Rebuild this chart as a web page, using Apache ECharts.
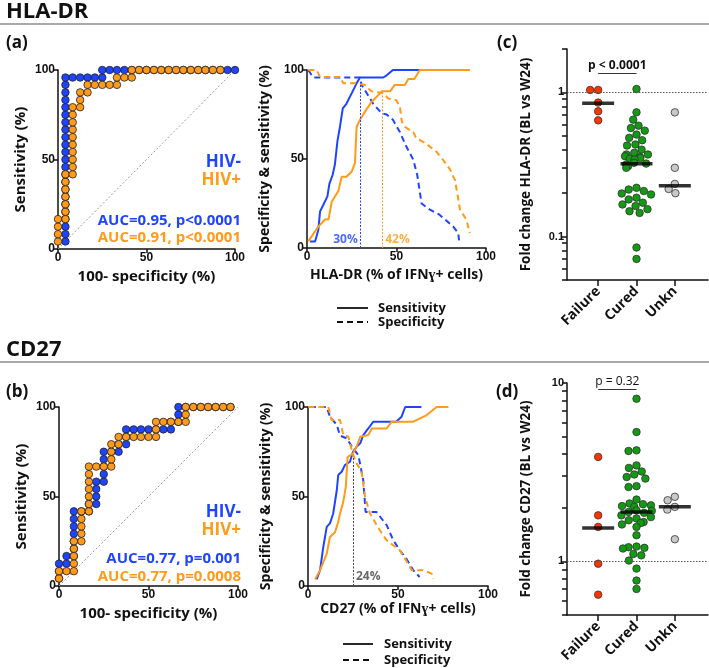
<!DOCTYPE html>
<html>
<head>
<meta charset="utf-8">
<script src="https://cdn.jsdelivr.net/npm/echarts@6/dist/echarts.min.js"></script>
<style>
  html, body { margin: 0; padding: 0; background: #fff; }
  #chart { width: 709px; height: 668px; }
</style>
</head>
<body>
<div id="chart"></div>
<script>
// ---- ROC curves, points are [100-specificity, sensitivity] ----
const rocHlaNeg = [[4.2,4.2],[4.2,8.3],[4.2,12.5],[4.2,16.7],[4.2,20.8],[4.2,25],[4.2,29.2],[4.2,33.3],[4.2,37.5],[4.2,41.7],[4.2,45.8],[4.2,50],[4.2,54.2],[4.2,58.3],[4.2,62.5],[4.2,66.7],[4.2,70.8],[4.2,75],[4.2,79.2],[4.2,83.3],[4.2,87.5],[4.2,91.7],[4.2,95.8],[8.3,95.8],[12.5,95.8],[16.7,95.8],[20.8,95.8],[25,95.8],[25,100],[29.2,100],[33.3,100],[37.5,100],[41.7,100],[45.8,100],[50,100],[54.2,100],[58.3,100],[62.5,100],[66.7,100],[70.8,100],[75,100],[79.2,100],[83.3,100],[87.5,100],[91.7,100],[95.8,100],[100,100]];
const rocHlaPos = [[0,4.2],[0,8.3],[0,12.5],[0,16.7],[4.2,16.7],[4.2,20.8],[4.2,25],[4.2,29.2],[4.2,33.3],[4.2,37.5],[4.2,41.7],[8.3,41.7],[8.3,45.8],[8.3,50],[8.3,54.2],[8.3,58.3],[8.3,62.5],[8.3,66.7],[8.3,70.8],[8.3,75],[8.3,79.2],[12.5,79.2],[12.5,83.3],[12.5,87.5],[16.7,87.5],[16.7,91.7],[20.8,91.7],[25,91.7],[29.2,91.7],[33.3,91.7],[33.3,95.8],[37.5,95.8],[41.7,95.8],[41.7,100],[45.8,100],[50,100],[54.2,100],[58.3,100],[62.5,100],[66.7,100],[70.8,100],[75,100],[79.2,100],[83.3,100],[87.5,100],[91.7,100]];
const rocCdNeg = [[0,4.2],[0,8.3],[0,12.5],[4.2,12.5],[4.2,16.7],[8.3,16.7],[8.3,20.8],[8.3,25],[8.3,29.2],[8.3,33.3],[8.3,37.5],[8.3,41.7],[12.5,41.7],[16.7,41.7],[16.7,45.8],[20.8,45.8],[20.8,50],[20.8,54.2],[20.8,58.3],[25,58.3],[25,62.5],[25,66.7],[25,70.8],[25,75],[29.2,75],[33.3,75],[33.3,79.2],[37.5,79.2],[37.5,83.3],[37.5,87.5],[41.7,87.5],[45.8,87.5],[50,87.5],[54.2,87.5],[58.3,87.5],[62.5,87.5],[62.5,91.7],[66.7,91.7],[66.7,95.8],[66.7,100],[70.8,100],[75,100],[79.2,100],[83.3,100],[87.5,100],[91.7,100],[95.8,100]];
const rocCdPos = [[0,4.2],[0,8.3],[4.2,8.3],[8.3,8.3],[8.3,12.5],[8.3,16.7],[8.3,20.8],[8.3,25],[12.5,25],[12.5,29.2],[12.5,33.3],[12.5,37.5],[12.5,41.7],[16.7,41.7],[16.7,45.8],[16.7,50],[16.7,54.2],[16.7,58.3],[16.7,62.5],[16.7,66.7],[20.8,66.7],[25,66.7],[29.2,66.7],[29.2,70.8],[29.2,75],[29.2,79.2],[33.3,79.2],[33.3,83.3],[37.5,83.3],[41.7,83.3],[45.8,83.3],[50,83.3],[54.2,83.3],[54.2,87.5],[54.2,91.7],[58.3,91.7],[62.5,91.7],[66.7,91.7],[70.8,91.7],[70.8,95.8],[70.8,100],[75,100],[79.2,100],[83.3,100],[87.5,100],[91.7,100],[95.8,100]];
const chanceLine = [[0,0],[100,100]];

// ---- sensitivity / specificity vs marker level, points are [% of IFNg+ cells, %] ----
const hlaSensNeg = [[1.7,3.7],[4.5,3.7],[6.3,10],[7.3,20.6],[9,24],[11.4,29],[12.5,36],[14.3,41],[15.6,47],[17,60],[18.4,68],[20,78.5],[22,81],[25,87],[27.7,92.5],[29.6,95.8],[42.6,95.8],[44.5,97],[48,100],[64,100]];
const hlaSpecNeg = [[0.7,100],[3.5,95.8],[29.6,95.8],[30.5,91.6],[34,86],[37,81],[41.7,75.7],[44.5,75],[48,72],[52,65],[55,58],[59.4,49.5],[61.6,41],[64,25],[68.7,21.5],[74,18.7],[81.7,12],[84.5,8.4],[85,3.7]];
const hlaSensPos = [[0.7,3.7],[2.6,6.5],[6.3,12],[10,16],[12,16],[13.8,26],[17.5,32],[19.4,40],[22,40],[25,43],[26.8,47.7],[27.7,68],[29.6,72],[33,77.6],[34.3,79.4],[36,82],[39,85],[41.7,88],[46.4,88],[49,91.6],[54.7,91.6],[56.6,95],[60,95],[63,100],[91,100]];
const hlaSpecPos = [[0.7,100],[5.4,100],[7.3,96],[18.4,96],[20.3,92.5],[27.7,92.5],[32.4,91.6],[36,88],[42.6,87],[45.4,84],[50,83],[52,78.5],[53,71],[54.7,68],[59.4,65],[61,61.7],[66,59],[72.4,54],[76,49.5],[80,44],[82.7,38],[85.5,21.5],[89,16],[91,8.4]];
const cdSensNeg = [[4.8,3.7],[6.7,8.8],[8.5,21.8],[10.4,33],[12.2,35],[14,40.5],[16,53.5],[16.8,62],[18.7,63.8],[20.5,67.5],[23.3,69.4],[25,75],[27,77.8],[29,79.7],[30.7,84.3],[33.5,88],[36.3,91.8],[49,91.8],[52,94.6],[54,100],[63,100]];
const cdSpecNeg = [[1,100],[10.4,100],[12.2,94.6],[16,90],[17.8,84],[21.5,82.5],[24.3,78],[28,73],[30.7,59],[32,41.4],[38,41.4],[43.7,34],[47.4,25.5],[51,20],[54.8,15],[58.5,8.8],[62,5]];
const cdSensPos = [[3.9,3.7],[6.7,8.8],[10.4,18],[12.2,27.4],[15,30],[16.8,35.8],[17.8,40.5],[19.6,47],[21,55.4],[22,72],[25,74],[27,77.8],[29,83.4],[33.5,84.3],[35.4,88],[43.7,88],[46.5,91.8],[58.5,91.8],[66,95.5],[71.5,100],[78,100]];
const cdSpecPos = [[0.2,100],[11.3,100],[13.1,92.7],[17.8,92.7],[19.6,84.3],[22.4,83.4],[24.8,74],[27,68.5],[29.8,63.8],[31.7,49.8],[34.4,40.5],[40,31],[43.7,25.5],[51,20],[56.7,10.6],[57.6,8.8],[64,8.8],[68.7,6.9],[69.6,4]];
// cut-offs: [x, height of the dotted line]
const hlaCutNeg = [30, 93];
const hlaCutPos = [42, 88];
const cdCut = [25, 72];

// ---- fold change BL vs W24 ----
const groups = ['Failure', 'Cured', 'Unkn'];
const hlaFailure = [1.04, 1.04, 0.85, 0.74, 0.64];
const hlaCured = [1.055, 0.727, 0.647, 0.588, 0.566, 0.543, 0.51, 0.484, 0.466, 0.435, 0.428, 0.401, 0.381, 0.371, 0.371, 0.361, 0.357, 0.351, 0.346, 0.342, 0.325, 0.321, 0.316, 0.308, 0.3, 0.218, 0.212, 0.207, 0.199, 0.196, 0.186, 0.181, 0.172, 0.167, 0.163, 0.155, 0.15, 0.146, 0.084, 0.07];
const hlaUnkn = [0.727, 0.3, 0.232, 0.214, 0.2];
const hlaMedians = [0.84, 0.32, 0.225];
const cdFailure = [3.85, 1.81, 1.56, 0.97, 0.65];
const cdCured = [8.16, 5.31, 4.19, 4.16, 3.45, 3.34, 3.19, 3.07, 2.97, 2.91, 2.64, 2.61, 2.22, 2.11, 2.09, 2.06, 2.04, 2.02, 1.93, 1.92, 1.89, 1.87, 1.81, 1.77, 1.74, 1.7, 1.66, 1.64, 1.61, 1.56, 1.4, 1.21, 1.2, 1.19, 1.18, 1.1, 1.08, 1.01, 0.91, 0.78, 0.7];
const cdUnkn = [2.3, 2.2, 2.02, 1.95, 1.33];
const cdMedians = [1.54, 1.89, 2.02];
const hlaTicks = [0.05, 0.06, 0.07, 0.08, 0.09, 0.1, 0.2, 0.3, 0.4, 0.5, 0.6, 0.7, 0.8, 0.9, 1, 2];
const cdTicks = [0.5, 0.6, 0.7, 0.8, 0.9, 1, 2, 3, 4, 5, 6, 7, 8, 9, 10];

const BLUE = '#1f44ff', ORANGE = '#ff9a1a', RED = '#ff3300', GREEN = '#139a13', GREY = '#c8c8c8';
const INK = '#111';
const SANS = 'Open Sans';
const NUM = 'Liberation Sans';

const chart = echarts.init(document.getElementById('chart'));

function grid(left, top, width, height) {
  return { left: left, top: top, width: width, height: height, outerBoundsMode: 'none', containLabel: false };
}
function titleStyle(size) {
  return { fontFamily: SANS, fontWeight: 'bold', fontSize: size, color: INK };
}
function pctAxis(gridIndex, name, gap, nameSize) {
  return {
    type: 'value', gridIndex: gridIndex, min: 0, max: 100, interval: 50,
    name: name, nameLocation: 'middle', nameGap: gap, nameTextStyle: titleStyle(nameSize),
    axisLine: { show: true, onZero: false, lineStyle: { color: INK, width: 1.5 } },
    axisTick: { show: true, length: 4, lineStyle: { color: INK, width: 1.5 } },
    axisLabel: { fontFamily: NUM, fontWeight: 'bold', fontSize: 12, color: INK, margin: 3 },
    splitLine: { show: false }
  };
}
function logAxis(gridIndex, min, max, ticks, labels, name, visible) {
  return {
    type: 'log', logBase: 10, gridIndex: gridIndex, min: min, max: max, show: visible,
    name: name, nameLocation: 'middle', nameGap: 34, nameTextStyle: titleStyle(13.5),
    axisLine: { show: true, onZero: false, lineStyle: { color: INK, width: 1.5 } },
    axisTick: { show: true, length: 5, customValues: ticks, lineStyle: { color: INK, width: 1.5 } },
    axisLabel: { fontFamily: NUM, fontWeight: 'bold', fontSize: 11, color: INK, margin: 3, customValues: labels },
    minorTick: { show: false }, splitLine: { show: false }
  };
}
function frameX(gridIndex) {
  return {
    type: 'value', gridIndex: gridIndex, min: 0, max: 1,
    axisLine: { show: true, onZero: false, lineStyle: { color: INK, width: 1.5 } },
    axisTick: { show: false }, axisLabel: { show: false }, splitLine: { show: false }
  };
}
function catX(gridIndex, jitter, visible) {
  return {
    type: 'category', gridIndex: gridIndex, data: groups, show: visible,
    jitter: jitter, jitterOverlap: false, jitterMargin: 0.5,
    axisLine: { show: false },
    axisTick: { show: true, alignWithLabel: true, length: 6, lineStyle: { color: INK, width: 1.5 } },
    axisLabel: { rotate: 45, interval: 0, fontFamily: SANS, fontWeight: 'bold', fontSize: 14, color: INK, margin: 9 }
  };
}

function rocSeries(axis, data, color, z) {
  return {
    type: 'line', xAxisIndex: axis, yAxisIndex: axis, data: data, z: z,
    symbol: 'circle', symbolSize: 7.5, showAllSymbol: true,
    lineStyle: { color: '#222', width: 1 },
    itemStyle: { color: color, borderColor: '#222', borderWidth: 0.8 }
  };
}
function chanceSeries(axis) {
  return {
    type: 'line', xAxisIndex: axis, yAxisIndex: axis, data: chanceLine, symbol: 'none', z: 1,
    lineStyle: { color: '#9a9a9a', width: 1, type: [2, 2] }
  };
}
function curve(axis, data, color, dashed) {
  return {
    type: 'line', xAxisIndex: axis, yAxisIndex: axis, data: data, symbol: 'none', z: 3,
    lineStyle: { color: color, width: 2, type: dashed ? [6, 4] : 'solid' }
  };
}
function cutLine(axis, cut, color, text, side) {
  return {
    type: 'scatter', xAxisIndex: axis, yAxisIndex: axis, symbolSize: 0, z: 4,
    data: [[cut[0], 5]],
    label: { show: true, formatter: text, position: side, distance: 3, color: color, fontFamily: SANS, fontWeight: 'bold', fontSize: 12 },
    markLine: {
      silent: true, symbol: 'none', label: { show: false },
      lineStyle: { color: color, width: 1, type: [2, 1.5] },
      data: [[{ coord: [cut[0], 0] }, { coord: cut }]]
    }
  };
}
function dots(xAxis, yAxis, group, values, color) {
  return {
    type: 'scatter', xAxisIndex: xAxis, yAxisIndex: yAxis, z: 3,
    data: values.map(v => [group, v]),
    symbol: 'circle', symbolSize: 7.5,
    itemStyle: { color: color, borderColor: '#333', borderWidth: 0.8, opacity: 1 }
  };
}
function medians(xAxis, yAxis, values, pText, pY, pBold) {
  return {
    type: 'scatter', xAxisIndex: xAxis, yAxisIndex: yAxis, z: 5,
    data: values.map((v, i) => [groups[i], v]),
    symbol: 'rect', symbolSize: [32, 3.5],
    itemStyle: { color: '#000' },
    markLine: {
      silent: true, symbol: 'none',
      lineStyle: { color: '#333', width: 1, type: 'solid' },
      label: { show: true, position: 'middle', formatter: pText, distance: 2, color: INK, fontFamily: SANS, fontWeight: pBold ? 'bold' : 'normal', fontSize: 12 },
      data: [[{ coord: [groups[0], pY] }, { coord: [groups[1], pY] }]]
    }
  };
}
function unityLine(axis) {
  return {
    type: 'scatter', xAxisIndex: axis, yAxisIndex: axis, data: [], z: 1,
    markLine: {
      silent: true, symbol: 'none', label: { show: false },
      lineStyle: { color: '#555', width: 1, type: [1.5, 1.5] },
      data: [{ yAxis: 1 }]
    }
  };
}

function txt(x, y, text, size, color, align, weight) {
  return {
    type: 'text', x: x, y: y, silent: true,
    style: {
      text: text, fill: color || INK, fontFamily: SANS, fontWeight: weight || 'bold', fontSize: size,
      align: align || 'left', verticalAlign: 'middle', textAlign: align || 'left', textVerticalAlign: 'middle'
    }
  };
}
function hline(x1, x2, y, width, dash) {
  return { type: 'line', silent: true, shape: { x1: x1, y1: y, x2: x2, y2: y }, style: { stroke: dash ? INK : '#555', lineWidth: width, lineDash: dash || null } };
}

// axis index i (0..7) is shared by xAxis[i] / yAxis[i]; xAxis 8 and 9 are the un-jittered median axes
const option = {
  animation: false,
  backgroundColor: '#fff',
  grid: [
    grid(58, 70, 177, 179),   // 0 (a)
    grid(307, 70, 179, 178),  // 1 HLA-DR sens/spec
    grid(567, 49, 141, 231),  // 2 (c) frame
    grid(579, 49, 115, 231),  // 3 (c) dots
    grid(59, 407, 179, 179),  // 4 (b)
    grid(308, 407, 180, 179), // 5 CD27 sens/spec
    grid(567, 383, 141, 232), // 6 (d) frame
    grid(579, 383, 115, 232)  // 7 (d) dots
  ],
  xAxis: [
    pctAxis(0, '100- specificity (%)', 20, 15),
    pctAxis(1, 'HLA-DR (% of IFN\u0263+ cells)', 20, 14),
    frameX(2),
    catX(3, 36, true),
    pctAxis(4, '100- specificity (%)', 20, 15),
    pctAxis(5, 'CD27 (% of IFN\u0263+ cells)', 13, 14),
    frameX(6),
    catX(7, 36, true),
    catX(3, 0, false),
    catX(7, 0, false)
  ],
  yAxis: [
    pctAxis(0, 'Sensitivity (%)', 30, 15),
    pctAxis(1, 'Specificity & sensitivity (%)', 35, 14),
    logAxis(2, 0.05, 2, hlaTicks, [0.1, 1], 'Fold change HLA-DR (BL vs W24)', true),
    logAxis(3, 0.05, 2, hlaTicks, [0.1, 1], '', false),
    pctAxis(4, 'Sensitivity (%)', 30, 15),
    pctAxis(5, 'Specificity & sensitivity (%)', 35, 14),
    logAxis(6, 0.5, 10, cdTicks, [1, 10], 'Fold change CD27 (BL vs W24)', true),
    logAxis(7, 0.5, 10, cdTicks, [1, 10], '', false)
  ],
  series: [
    chanceSeries(0),
    rocSeries(0, rocHlaNeg, BLUE, 3),
    rocSeries(0, rocHlaPos, ORANGE, 4),
    curve(1, hlaSensNeg, BLUE, false),
    curve(1, hlaSpecNeg, BLUE, true),
    curve(1, hlaSensPos, ORANGE, false),
    curve(1, hlaSpecPos, ORANGE, true),
    cutLine(1, hlaCutNeg, BLUE, '30%', 'left'),
    cutLine(1, hlaCutPos, ORANGE, '42%', 'right'),
    unityLine(2),
    dots(3, 3, groups[0], hlaFailure, RED),
    dots(3, 3, groups[1], hlaCured, GREEN),
    dots(3, 3, groups[2], hlaUnkn, GREY),
    medians(8, 3, hlaMedians, 'p < 0.0001', 1.36, true),
    chanceSeries(4),
    rocSeries(4, rocCdNeg, BLUE, 3),
    rocSeries(4, rocCdPos, ORANGE, 4),
    curve(5, cdSensNeg, BLUE, false),
    curve(5, cdSpecNeg, BLUE, true),
    curve(5, cdSensPos, ORANGE, false),
    curve(5, cdSpecPos, ORANGE, true),
    cutLine(5, cdCut, '#444', '24%', 'right'),
    unityLine(6),
    dots(7, 7, groups[0], cdFailure, RED),
    dots(7, 7, groups[1], cdCured, GREEN),
    dots(7, 7, groups[2], cdUnkn, GREY),
    medians(9, 7, cdMedians, 'p = 0.32', 9.2, false)
  ],
  graphic: [
    txt(6, 12, 'HLA-DR', 22),
    hline(0, 709, 24, 1.2),
    txt(6, 350, 'CD27', 22),
    hline(0, 709, 362, 1.2),
    txt(6, 43, '(a)', 17),
    txt(497, 43, '(c)', 17),
    txt(6, 392, '(b)', 17),
    txt(496, 392, '(d)', 17),
    txt(241, 162, 'HIV-', 17, BLUE, 'right'),
    txt(241, 180, 'HIV+', 17, ORANGE, 'right'),
    txt(241, 221, 'AUC=0.95, p<0.0001', 15, BLUE, 'right'),
    txt(241, 238, 'AUC=0.91, p<0.0001', 15, ORANGE, 'right'),
    txt(241, 512, 'HIV-', 17, BLUE, 'right'),
    txt(241, 530, 'HIV+', 17, ORANGE, 'right'),
    txt(241, 559, 'AUC=0.77, p=0.001', 15, BLUE, 'right'),
    txt(241, 577, 'AUC=0.77, p=0.0008', 15, ORANGE, 'right'),
    hline(337, 368, 308, 1.8, [0]),
    hline(337, 368, 322, 1.8, [6, 4]),
    txt(378, 308, 'Sensitivity', 13),
    txt(378, 322, 'Specificity', 13),
    hline(343, 373, 644, 1.8, [0]),
    hline(343, 373, 660, 1.8, [6, 4]),
    txt(384, 644, 'Sensitivity', 13),
    txt(384, 660, 'Specificity', 13)
  ]
};

chart.setOption(option);
window.addEventListener('resize', function () { chart.resize(); });
</script>
</body>
</html>
